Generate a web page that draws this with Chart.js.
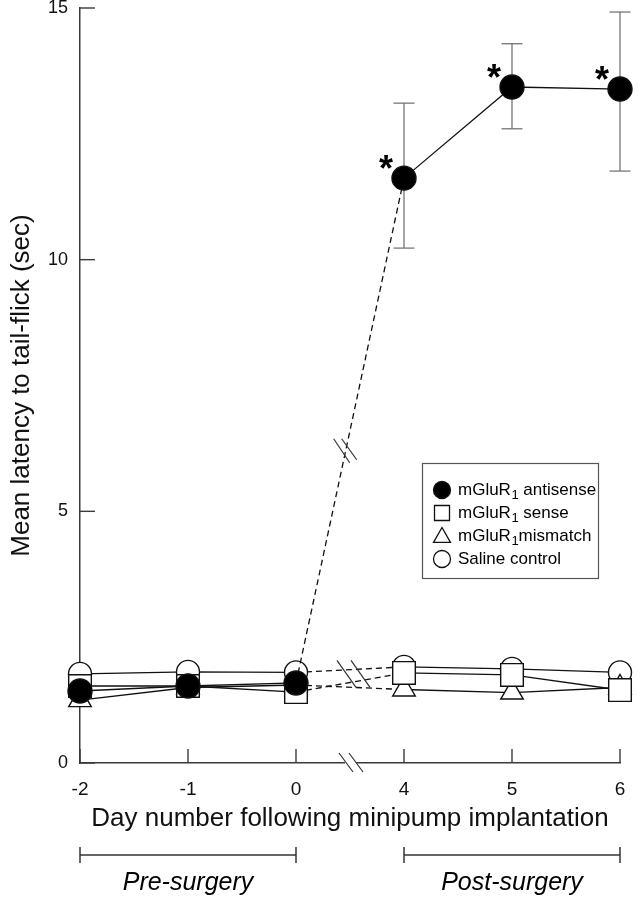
<!DOCTYPE html>
<html><head><meta charset="utf-8">
<script src="https://cdn.jsdelivr.net/npm/chart.js@4/dist/chart.umd.min.js"></script>
<style>html,body{margin:0;padding:0;background:#fff}canvas{display:block}</style>
</head><body>
<canvas id="c" width="638" height="900"></canvas>
<script>
// ---- data ----
const days = ['-2', '-1', '0', '4', '5', '6'];
const yTicks = [0, 5, 10, 15];
const antisense = [1.43, 1.53, 1.59, 11.62, 13.43, 13.39];
const antisenseErrHi = [null, null, null, 13.11, 14.29, 14.92];
const antisenseErrLo = [null, null, null, 10.23, 12.60, 11.76];
const sense = [1.53, 1.53, 1.41, 1.79, 1.75, 1.45];
const mismatch = [1.25, 1.50, 1.55, 1.46, 1.40, 1.50];
const saline = [1.77, 1.81, 1.80, 1.91, 1.87, 1.80];
const significant = [false, false, false, true, true, true];
const legendNames = ['mGluR|1| antisense', 'mGluR|1| sense', 'mGluR|1|mismatch', 'Saline control'];
const periodNames = ['Pre-surgery', 'Post-surgery'];
const xTitle = 'Day number following minipump implantation';
const yTitle = 'Mean latency to tail-flick (sec)';

const FONT = '"Liberation Sans", Arial, Helvetica, sans-serif';
const INK = '#111';
const AXIS = '#3a3a3a';

const dashSeg = { borderDash: c => (c.p0DataIndex === 2 ? [6, 4] : undefined) };
function ds(label, data, style, radius, fill) {
  return {
    label, data,
    borderColor: INK, borderWidth: 1.3, tension: 0, fill: false,
    pointStyle: style, pointRadius: radius, pointHoverRadius: radius,
    pointBackgroundColor: fill, pointBorderColor: INK, pointBorderWidth: 1.4,
    segment: dashSeg, clip: false
  };
}

function line(ctx, x1, y1, x2, y2) { ctx.beginPath(); ctx.moveTo(x1, y1); ctx.lineTo(x2, y2); ctx.stroke(); }

function drawMarker(ctx, style, x, y, r, fill) {
  ctx.save();
  ctx.fillStyle = fill; ctx.strokeStyle = INK; ctx.lineWidth = 1.3;
  ctx.beginPath();
  if (style === 'circle') ctx.arc(x, y, r, 0, Math.PI * 2);
  else if (style === 'rect') ctx.rect(x - r, y - r, 2 * r, 2 * r);
  else if (style === 'triangle') {
    ctx.moveTo(x, y - r); ctx.lineTo(x + r * 1.0, y + r * 0.75); ctx.lineTo(x - r * 1.0, y + r * 0.75); ctx.closePath();
  }
  ctx.fill(); ctx.stroke();
  ctx.restore();
}

const decor = {
  id: 'decor',
  beforeDatasetsDraw(chart) {
    const { ctx, scales: { x, y } } = chart;
    ctx.save();
    ctx.strokeStyle = '#6a6a6a'; ctx.lineWidth = 1.2;
    antisense.forEach((v, i) => {
      if (antisenseErrHi[i] == null) return;
      const px = x.getPixelForValue(i);
      const t = y.getPixelForValue(antisenseErrHi[i]);
      const b = y.getPixelForValue(antisenseErrLo[i]);
      line(ctx, px, t, px, b);
      line(ctx, px - 10.5, t, px + 10.5, t);
      line(ctx, px - 10.5, b, px + 10.5, b);
    });
    ctx.restore();
  },
  afterDraw(chart) {
    const { ctx, chartArea: ca, scales: { x, y } } = chart;
    ctx.save();
    // inward tick marks
    ctx.strokeStyle = AXIS; ctx.lineWidth = 1.4;
    yTicks.forEach(v => { const py = y.getPixelForValue(v); line(ctx, ca.left, py, ca.left + 15, py); });
    days.forEach((d, i) => { const px = x.getPixelForValue(i); line(ctx, px, ca.bottom, px, ca.bottom - 14); });

    // axis break
    const mid = (x.getPixelForValue(2) + x.getPixelForValue(3)) / 2;
    ctx.fillStyle = '#fff';
    ctx.fillRect(mid - 5, ca.bottom - 3, 11, 6);
    ctx.strokeStyle = '#333'; ctx.lineWidth = 1.2;
    line(ctx, mid - 11, ca.bottom - 10, mid + 3, ca.bottom + 9);
    line(ctx, mid - 1, ca.bottom - 10, mid + 13, ca.bottom + 9);

    // break on lower dashed lines
    const yl = y.getPixelForValue(1.8);
    line(ctx, mid - 13, yl - 12, mid + 6, yl + 15);
    line(ctx, mid + 1, yl - 12, mid + 20, yl + 15);

    // break on antisense dashed line
    const x0 = x.getPixelForValue(2), y0 = y.getPixelForValue(antisense[2]);
    const x1 = x.getPixelForValue(3), y1 = y.getPixelForValue(antisense[3]);
    const t = 0.46;
    const bx = x0 + (x1 - x0) * t, by = y0 + (y1 - y0) * t;
    line(ctx, bx - 12, by - 12, bx + 4, by + 12);
    line(ctx, bx - 4, by - 12, bx + 11, by + 9);

    // significance stars
    ctx.fillStyle = '#000';
    ctx.font = `bold 36px ${FONT}`;
    ctx.textAlign = 'center'; ctx.textBaseline = 'alphabetic';
    antisense.forEach((v, i) => {
      if (!significant[i]) return;
      const px = x.getPixelForValue(i), py = y.getPixelForValue(v);
      ctx.fillText('*', px - 18, py + 3);
    });

    // legend
    const lx = 422.5, ly = 463.5, lw = 176, lh = 115;
    ctx.fillStyle = '#fff'; ctx.fillRect(lx, ly, lw, lh);
    ctx.strokeStyle = '#555'; ctx.lineWidth = 1.2; ctx.strokeRect(lx, ly, lw, lh);
    const styles = [['circle', 8.5, '#000'], ['rect', 7.5, '#fff'], ['triangle', 8.5, '#fff'], ['circle', 8.5, '#fff']];
    legendNames.forEach((name, i) => {
      const cy = 490 + i * 23;
      const [st, r, f] = styles[i];
      drawMarker(ctx, st, 442, cy, r, f);
      const parts = name.split('|');
      ctx.fillStyle = '#000'; ctx.textAlign = 'left'; ctx.textBaseline = 'middle';
      ctx.font = `17px ${FONT}`;
      let tx = 458;
      ctx.fillText(parts[0], tx, cy); tx += ctx.measureText(parts[0]).width;
      if (parts.length > 1) {
        ctx.font = `13px ${FONT}`;
        ctx.fillText(parts[1], tx + 0.5, cy + 5); tx += ctx.measureText(parts[1]).width + 0.5;
        ctx.font = `17px ${FONT}`;
        ctx.fillText(parts[2], tx, cy);
      }
    });

    // period brackets
    const by2 = 855;
    ctx.strokeStyle = '#333'; ctx.lineWidth = 1.5;
    [[0, 2], [3, 5]].forEach(([a, b], k) => {
      const xa = x.getPixelForValue(a), xb = x.getPixelForValue(b);
      line(ctx, xa, by2, xb, by2);
      line(ctx, xa, by2 - 8, xa, by2 + 8);
      line(ctx, xb, by2 - 8, xb, by2 + 8);
      ctx.fillStyle = '#000'; ctx.font = `italic 25px ${FONT}`;
      ctx.textAlign = 'center'; ctx.textBaseline = 'middle';
      ctx.fillText(periodNames[k], (xa + xb) / 2, 883);
    });
    ctx.restore();
  }
};

new Chart(document.getElementById('c'), {
  type: 'line',
  data: {
    labels: days,
    datasets: [
      ds('antisense', antisense, 'circle', 12, '#000'),
      ds('sense', sense, 'rect', 16, '#fff'),
      ds('mismatch', mismatch, 'triangle', 13, '#fff'),
      ds('saline', saline, 'circle', 11.5, '#fff')
    ]
  },
  options: {
    responsive: false, animation: false,
    layout: { autoPadding: false, padding: { top: 8, right: 18, left: 0, bottom: 0 } },
    plugins: { legend: { display: false }, tooltip: { enabled: false } },
    scales: {
      x: {
        type: 'category', offset: false,
        grid: { display: false, drawTicks: false },
        border: { display: true, color: AXIS, width: 1.5 },
        ticks: { color: INK, font: { family: FONT, size: 19 }, padding: 15, maxRotation: 0, autoSkip: false },
        title: { display: true, text: xTitle, color: INK, font: { family: FONT, size: 26 }, padding: { top: 0, bottom: 66 } },
        afterFit: s => { s.height = 137; s.paddingLeft = 0; s.paddingRight = 0; }
      },
      y: {
        min: 0, max: 15,
        afterBuildTicks: s => { s.ticks = yTicks.map(v => ({ value: v })); },
        grid: { display: false, drawTicks: false },
        border: { display: true, color: AXIS, width: 1.5 },
        ticks: { color: INK, font: { family: FONT, size: 18 }, padding: 12 },
        title: { display: true, text: yTitle, color: INK, font: { family: FONT, size: 26 }, padding: { top: 6, bottom: 0 } },
        afterFit: s => { s.width = 80; s.paddingTop = 0; s.paddingBottom = 0; }
      }
    }
  },
  plugins: [decor]
});
</script>
</body></html>
